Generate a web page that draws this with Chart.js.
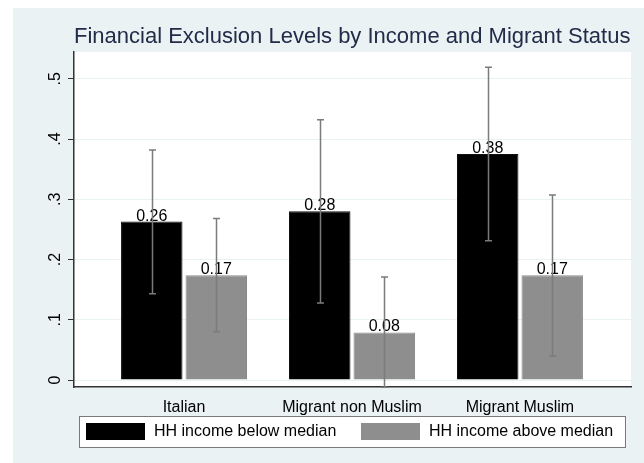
<!DOCTYPE html>
<html>
<head>
<meta charset="utf-8">
<script src="https://cdn.jsdelivr.net/npm/chart.js@4.4.1/dist/chart.umd.min.js"></script>
<style>
  html, body { margin:0; padding:0; background:#fff; }
  #wrap { position:relative; width:644px; height:463px; }
</style>
</head>
<body>
<div id="wrap"><canvas id="grafico" width="644" height="463"></canvas></div>
<script>
/* =================== Dados =================== */
const titulo = "Financial Exclusion Levels by Income and Migrant Status";
const categorias = ["Italian", "Migrant non Muslim", "Migrant Muslim"];
const serieNomes = ["HH income below median", "HH income above median"];
const abaixo = [0.263, 0.280, 0.375];
const acima = [0.174, 0.079, 0.174];
const rotulosAbaixo = ["0.26", "0.28", "0.38"];
const rotulosAcima = ["0.17", "0.08", "0.17"];
const ciAbaixoLo = [0.143, 0.128, 0.231];
const ciAbaixoHi = [0.382, 0.432, 0.519];
const ciAcimaLo = [0.080, -0.012, 0.040];
const ciAcimaHi = [0.268, 0.171, 0.307];
const yTicks = [0, 0.1, 0.2, 0.3, 0.4, 0.5];

/* =================== Estilo =================== */
const FONTE = "'Liberation Sans', Arial, sans-serif";
const FUNDO = "#eaf2f3";
const COR_PRETO = "#000000";
const COR_CINZA = "#8e8e8e";
const COR_ERRO = "#7b7b7b";

const pos = categorias.map((c, i) => i + 1);
const pontos = (arr) => arr.map((v, i) => ({x: pos[i], y: v}));

/* --------------- Plugins --------------- */
const fundo = {
  id: "fundo",
  beforeDraw(chart){
    const ctx = chart.ctx;
    ctx.save();
    ctx.fillStyle = FUNDO;
    ctx.fillRect(13, 8, chart.width - 13, chart.height - 8);
    const a = chart.chartArea;
    ctx.fillStyle = "#fff";
    ctx.fillRect(a.left, a.top, a.right - a.left, a.bottom - a.top);
    ctx.restore();
  }
};

const barrasErro = {
  id: "barrasErro",
  afterDatasetsDraw(chart){
    const ctx = chart.ctx, y = chart.scales.y;
    const ci = [[ciAbaixoLo, ciAbaixoHi], [ciAcimaLo, ciAcimaHi]];
    const rot = [rotulosAbaixo, rotulosAcima];
    ctx.save();
    chart.data.datasets.forEach((ds, d) => {
      const meta = chart.getDatasetMeta(d);
      meta.data.forEach((bar, i) => {
        // rótulo do valor
        ctx.fillStyle = "#000";
        ctx.font = "16px " + FONTE;
        ctx.textAlign = "center";
        ctx.textBaseline = "alphabetic";
        ctx.fillText(rot[d][i], bar.x, bar.y - 1);
      });
    });
    chart.data.datasets.forEach((ds, d) => {
      const meta = chart.getDatasetMeta(d);
      meta.data.forEach((bar, i) => {
        const lo = y.getPixelForValue(ci[d][0][i]);
        const hi = y.getPixelForValue(ci[d][1][i]);
        const x = Math.round(bar.x) + 0.5;
        ctx.strokeStyle = COR_ERRO;
        ctx.lineWidth = 1.5;
        ctx.beginPath();
        ctx.moveTo(x, lo); ctx.lineTo(x, hi);
        ctx.moveTo(x - 3.5, hi); ctx.lineTo(x + 3.5, hi);
        ctx.moveTo(x - 3.5, lo); ctx.lineTo(x + 3.5, lo);
        ctx.stroke();
      });
    });
    ctx.restore();
  }
};

const tituloELegenda = {
  id: "tituloELegenda",
  afterDraw(chart){
    const ctx = chart.ctx;
    ctx.save();
    // titulo
    ctx.fillStyle = "#222b48";
    ctx.font = "22px " + FONTE;
    ctx.textAlign = "left";
    ctx.textBaseline = "alphabetic";
    ctx.fillText(titulo, 74, 43);

    // legenda
    ctx.fillStyle = "#fff";
    ctx.fillRect(79, 416, 547, 31);
    ctx.strokeStyle = "#7a7a7a";
    ctx.lineWidth = 1;
    ctx.strokeRect(79.5, 416.5, 546, 31);
    const cores = [COR_PRETO, COR_CINZA];
    const xs = [86, 361];
    ctx.font = "16px " + FONTE;
    ctx.textBaseline = "middle";
    serieNomes.forEach((nome, k) => {
      ctx.fillStyle = cores[k];
      ctx.fillRect(xs[k], 423, 59, 17);
      ctx.fillStyle = "#000";
      ctx.fillText(nome, xs[k] + 68, 432);
    });
    ctx.restore();
  }
};

/* --------------- Chart --------------- */
new Chart(document.getElementById("grafico"), {
  type: "bar",
  data: {
    datasets: [
      { label: serieNomes[0], data: pontos(abaixo), backgroundColor: COR_PRETO, borderColor: "#111", borderWidth: 1 },
      { label: serieNomes[1], data: pontos(acima), backgroundColor: COR_CINZA, borderColor: "#8a8a8a", borderWidth: 1 }
    ]
  },
  options: {
    responsive: false,
    animation: false,
    devicePixelRatio: 1,
    layout: { padding: { left: 0, top: 52, right: 13, bottom: 0 } },
    datasets: { bar: { categoryPercentage: 0.768, barPercentage: 0.953 } },
    plugins: { legend: { display: false }, tooltip: { enabled: false } },
    scales: {
      x: {
        type: "linear",
        offset: false,
        min: 0.345, max: 3.661,
        afterBuildTicks: s => { s.ticks = pos.map(v => ({value: v})); },
        afterFit: s => { s.height = 76; },
        grid: { display: false, drawTicks: false },
        border: { display: true, color: "#333", width: 1.5 },
        ticks: {
          padding: 11,
          color: "#000",
          font: { family: FONTE, size: 16 },
          maxRotation: 0, autoSkip: false,
          callback: v => categorias[v - 1] || ""
        }
      },
      y: {
        min: -0.0116, max: 0.5445,
        afterBuildTicks: s => { s.ticks = yTicks.map(v => ({value: v})); },
        afterFit: s => { s.width = 74; },
        grid: { color: FUNDO, lineWidth: 1, tickLength: 6, tickColor: "#333", drawTicks: true },
        border: { display: true, color: "#333", width: 1.5 },
        ticks: {
          padding: 6,
          color: "#000",
          minRotation: 90, maxRotation: 90,
          crossAlign: "center",
          font: { family: FONTE, size: 16 },
          callback: v => v === 0 ? "0" : v.toFixed(1).replace(/^0/, "")
        }
      }
    }
  },
  plugins: [fundo, barrasErro, tituloELegenda]
});
</script>
</body>
</html>
